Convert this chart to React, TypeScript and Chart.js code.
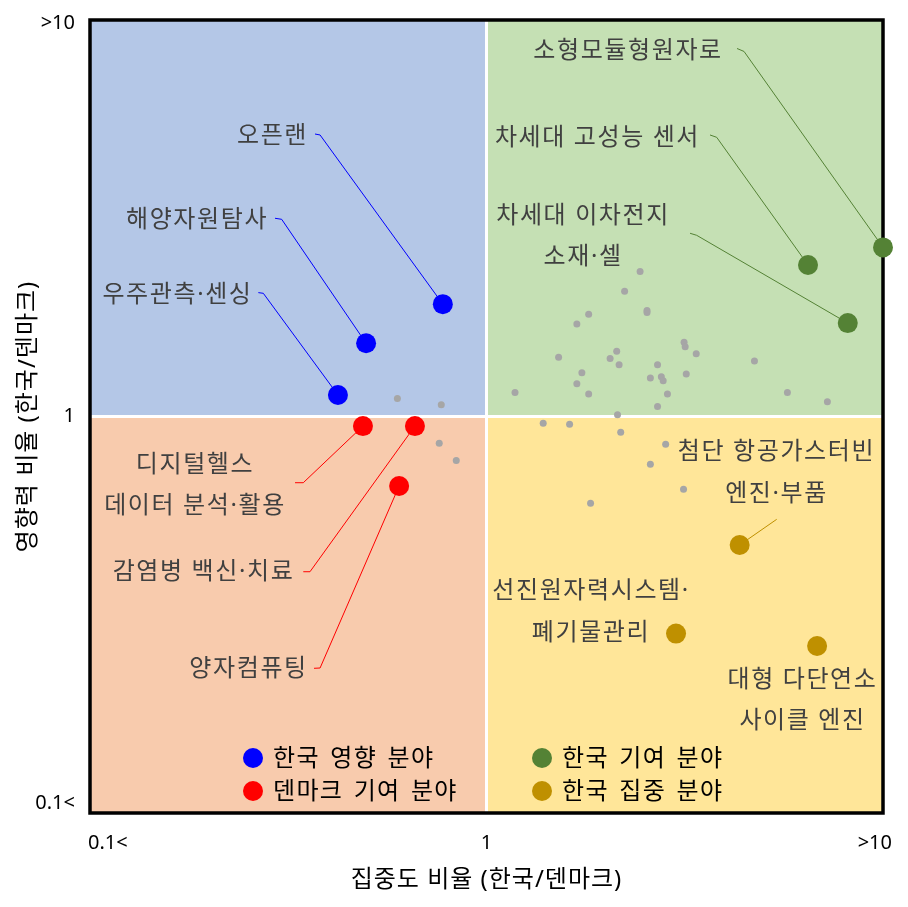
import React, { useEffect, useRef } from 'react';
import { Chart, registerables } from 'chart.js';

Chart.register(...registerables);

// ---------- axes ----------
const xTickValues = [0.1, 1, 10];
const xTickLabels = ['0.1<', '1', '>10'];
const yTickValues = [0.1, 1, 10];
const yTickLabels = ['0.1<', '1', '>10'];
const xTitle = '집중도 비율 (한국/덴마크)';
const yTitle = '영향력 비율 (한국/덴마크)';

// ---------- series ----------
const seriesNames = ['한국 영향 분야', '덴마크 기여 분야', '한국 기여 분야', '한국 집중 분야'];
const seriesColors = ['#0000ff', '#ff0000', '#548235', '#bf9000'];

// 한국 영향 분야
const impactX = [0.776, 0.497, 0.422];
const impactY = [1.92, 1.53, 1.133];
const impactLabels = [['오픈랜'], ['해양자원탐사'], ['우주관측·센싱']];
const impactLabelX = [0.2886, 0.1862, 0.1662];
const impactLabelY = [5.129, 3.149, 2.037];
const impactLeadX = [0.3694, 0.2928, 0.2658];
const impactLeadY = [5.158, 3.162, 2.053];
const impactBendX = [0.3804, 0.3044, 0.2736];
const impactBendY = [5.129, 3.143, 2.045];

// 덴마크 기여 분야
const denmarkX = [0.488, 0.66, 0.602];
const denmarkY = [0.946, 0.946, 0.668];
const denmarkLabels = [['디지털헬스', '데이터 분석·활용'], ['감염병 백신·치료'], ['양자컴퓨팅']];
const denmarkLabelX = [0.184, 0.1933, 0.2511];
const denmarkLabelY = [0.674, 0.4076, 0.2321];
const denmarkLeadX = [0.3289, 0.3451, 0.3673];
const denmarkLeadY = [0.6808, 0.406, 0.2317];
const denmarkBendX = [0.3451, 0.3588, 0.3804];
const denmarkBendY = [0.6808, 0.406, 0.2321];

// 한국 기여 분야
const contribX = [10, 6.47, 8.15];
const contribY = [2.67, 2.41, 1.72];
const contribLabels = [['소형모듈형원자로'], ['차세대 고성능 센서'], ['차세대 이차전지', '소재·셀']];
const contribLabelX = [2.275, 1.905, 1.752];
const contribLabelY = [8.4, 5.068, 2.861];
const contribLeadX = [4.284, 3.662, 3.261];
const contribLeadY = [8.475, 5.129, 2.898];
const contribBendX = [4.462, 3.807, 3.389];
const contribBendY = [8.33, 5.06, 2.864];

// 한국 집중 분야
const focusX = [4.35, 3.006, 6.82];
const focusY = [0.474, 0.2834, 0.2637];
const focusLabels = [['첨단 항공가스터빈', '엔진·부품'], ['선진원자력시스템·', '폐기물관리'], ['대형 다단연소', '사이클 엔진']];
const focusLabelX = [5.388, 1.835, 6.266];
const focusLabelY = [0.7244, 0.3232, 0.1933];
const focusLeadX = [5.394, null, null];
const focusLeadY = [0.5504, null, null];
const focusBendX = [5.394, null, null];
const focusBendY = [0.5504, null, null];

// 기타 분야 (회색)
const otherX = [2.44, 2.23, 1.81, 1.69, 2.54, 2.54, 1.52, 2.13, 2.05, 2.16, 1.74, 1.69, 1.81, 1.18, 3.15, 3.17, 3.38, 2.7, 2.59, 2.76, 2.79, 3.19, 2.86, 2.7, 4.74, 5.74, 7.24, 2.14, 1.39, 1.62, 2.18, 2.83, 2.59, 3.14, 1.83, 0.596, 0.769, 0.76, 0.839];
const otherY = [2.32, 2.07, 1.81, 1.71, 1.85, 1.83, 1.41, 1.46, 1.4, 1.35, 1.29, 1.21, 1.14, 1.15, 1.54, 1.5, 1.44, 1.35, 1.25, 1.26, 1.23, 1.28, 1.14, 1.06, 1.38, 1.15, 1.09, 1.01, 0.961, 0.956, 0.912, 0.851, 0.758, 0.655, 0.604, 1.11, 1.07, 0.856, 0.775];

const groups = [
  { x: impactX, y: impactY, labels: impactLabels, lx: impactLabelX, ly: impactLabelY, sx: impactLeadX, sy: impactLeadY, bx: impactBendX, by: impactBendY },
  { x: denmarkX, y: denmarkY, labels: denmarkLabels, lx: denmarkLabelX, ly: denmarkLabelY, sx: denmarkLeadX, sy: denmarkLeadY, bx: denmarkBendX, by: denmarkBendY },
  { x: contribX, y: contribY, labels: contribLabels, lx: contribLabelX, ly: contribLabelY, sx: contribLeadX, sy: contribLeadY, bx: contribBendX, by: contribBendY },
  { x: focusX, y: focusY, labels: focusLabels, lx: focusLabelX, ly: focusLabelY, sx: focusLeadX, sy: focusLeadY, bx: focusBendX, by: focusBendY },
];

const KR = '"Noto Sans", "Noto Sans CJK KR", sans-serif';

const quadrantPlugin = {
  id: 'quadrants',
  beforeDatasetsDraw(chart: any) {
    const { ctx, chartArea: a, scales } = chart;
    const cx = scales.x.getPixelForValue(1);
    const cy = scales.y.getPixelForValue(1);
    ctx.save();
    ctx.fillStyle = '#b4c7e7';
    ctx.fillRect(a.left, a.top, cx - a.left, cy - a.top);
    ctx.fillStyle = '#c5e0b4';
    ctx.fillRect(cx, a.top, a.right - cx, cy - a.top);
    ctx.fillStyle = '#f8cbad';
    ctx.fillRect(a.left, cy, cx - a.left, a.bottom - cy);
    ctx.fillStyle = '#ffe699';
    ctx.fillRect(cx, cy, a.right - cx, a.bottom - cy);
    ctx.strokeStyle = '#ffffff';
    ctx.lineWidth = 3;
    ctx.beginPath();
    ctx.moveTo(cx, a.top);
    ctx.lineTo(cx, a.bottom);
    ctx.moveTo(a.left, cy);
    ctx.lineTo(a.right, cy);
    ctx.stroke();
    ctx.strokeStyle = '#000000';
    ctx.lineWidth = 3.5;
    ctx.strokeRect(a.left, a.top, a.right - a.left, a.bottom - a.top);

    // leader lines
    ctx.lineWidth = 1;
    groups.forEach((g, gi) => {
      ctx.strokeStyle = seriesColors[gi];
      g.x.forEach((xv, i) => {
        if (g.sx[i] == null) return;
        ctx.beginPath();
        ctx.moveTo(scales.x.getPixelForValue(g.sx[i]), scales.y.getPixelForValue(g.sy[i]));
        ctx.lineTo(scales.x.getPixelForValue(g.bx[i]), scales.y.getPixelForValue(g.by[i]));
        ctx.lineTo(scales.x.getPixelForValue(xv), scales.y.getPixelForValue(g.y[i]));
        ctx.stroke();
      });
    });
    ctx.restore();
  },
  afterDatasetsDraw(chart: any) {
    const { ctx, chartArea: a, scales } = chart;
    ctx.save();
    // annotation labels
    ctx.font = `24px ${KR}`;
    (ctx as any).letterSpacing = '1.6px';
    ctx.fillStyle = '#404040';
    ctx.textAlign = 'center';
    ctx.textBaseline = 'middle';
    const lh = 41.5;
    groups.forEach((g) => {
      g.labels.forEach((lines, i) => {
        const px = scales.x.getPixelForValue(g.lx[i]);
        const py = scales.y.getPixelForValue(g.ly[i]);
        const top = py - ((lines.length - 1) * lh) / 2;
        lines.forEach((t, k) => ctx.fillText(t, px, top + k * lh + 1));
      });
    });

    // legend
    const legendCols = [a.left + 163, a.left + 452];
    const legendRows = [a.bottom - 55, a.bottom - 22];
    const order = [0, 2, 1, 3];
    ctx.font = `24px ${KR}`;
    (ctx as any).letterSpacing = '1.3px';
    (ctx as any).wordSpacing = '3px';
    ctx.textAlign = 'left';
    order.forEach((si, k) => {
      const col = k % 2;
      const row = Math.floor(k / 2);
      const mx = legendCols[col];
      const my = legendRows[row];
      ctx.fillStyle = seriesColors[si];
      ctx.beginPath();
      ctx.arc(mx, my, 10, 0, Math.PI * 2);
      ctx.fill();
      ctx.fillStyle = '#000000';
      ctx.fillText(seriesNames[si], mx + 20, my + 1);
    });
    (ctx as any).wordSpacing = '0px';
    (ctx as any).letterSpacing = '0px';

    // tick labels
    ctx.font = `20px "Noto Sans", sans-serif`;
    ctx.fillStyle = '#000000';
    xTickValues.forEach((v, i) => {
      const px = scales.x.getPixelForValue(v);
      if (i === 0) { ctx.textAlign = 'left'; ctx.fillText(xTickLabels[i], px - 2, a.bottom + 30); }
      else if (i === xTickValues.length - 1) { ctx.textAlign = 'right'; ctx.fillText(xTickLabels[i], px + 9, a.bottom + 30); }
      else { ctx.textAlign = 'center'; ctx.fillText(xTickLabels[i], px, a.bottom + 30); }
    });
    ctx.textAlign = 'right';
    yTickValues.forEach((v, i) => {
      let py = scales.y.getPixelForValue(v);
      if (i === 0) py -= 10;
      if (i === yTickValues.length - 1) py += 3;
      ctx.fillText(yTickLabels[i], a.left - 15, py);
    });

    // axis titles
    ctx.font = `24px ${KR}`;
    (ctx as any).letterSpacing = '1px';
    ctx.fillStyle = '#000000';
    ctx.textAlign = 'center';
    ctx.fillText(xTitle, (a.left + a.right) / 2, a.bottom + 67);
    ctx.translate(28, (a.top + a.bottom) / 2);
    ctx.rotate(-Math.PI / 2);
    ctx.fillText(yTitle, 0, 0);
    ctx.restore();
  },
};

export default function App() {
  const ref = useRef<HTMLCanvasElement | null>(null);
  useEffect(() => {
    if (!ref.current) return;
    const mk = (xs: number[], ys: number[]) => xs.map((x, i) => ({ x, y: ys[i] }));
    const chart = new Chart(ref.current, {
      type: 'scatter',
      data: {
        datasets: [
          { label: '기타', data: mk(otherX, otherY), pointRadius: 3.5, backgroundColor: '#a6a6a6', borderWidth: 0, clip: false } as any,
          ...groups.map((g, gi) => ({
            label: seriesNames[gi],
            data: mk(g.x, g.y),
            pointRadius: 10,
            backgroundColor: seriesColors[gi],
            borderWidth: 0,
            clip: false,
          })),
        ],
      },
      options: {
        animation: false,
        responsive: false,
        devicePixelRatio: 1,
        events: [],
        layout: { padding: { left: 90, top: 20, right: 25, bottom: 94 } },
        scales: {
          x: { type: 'logarithmic', min: 0.1, max: 10, display: false },
          y: { type: 'logarithmic', min: 0.1, max: 10, display: false },
        },
        plugins: { legend: { display: false }, tooltip: { enabled: false } },
      },
      plugins: [quadrantPlugin],
    });
    return () => chart.destroy();
  }, []);
  return (
    <div style={{ position: 'fixed', left: 0, top: 0, width: 908, height: 907, background: '#ffffff' }}>
      <canvas ref={ref} width={908} height={907} style={{ display: 'block' }} />
    </div>
  );
}
